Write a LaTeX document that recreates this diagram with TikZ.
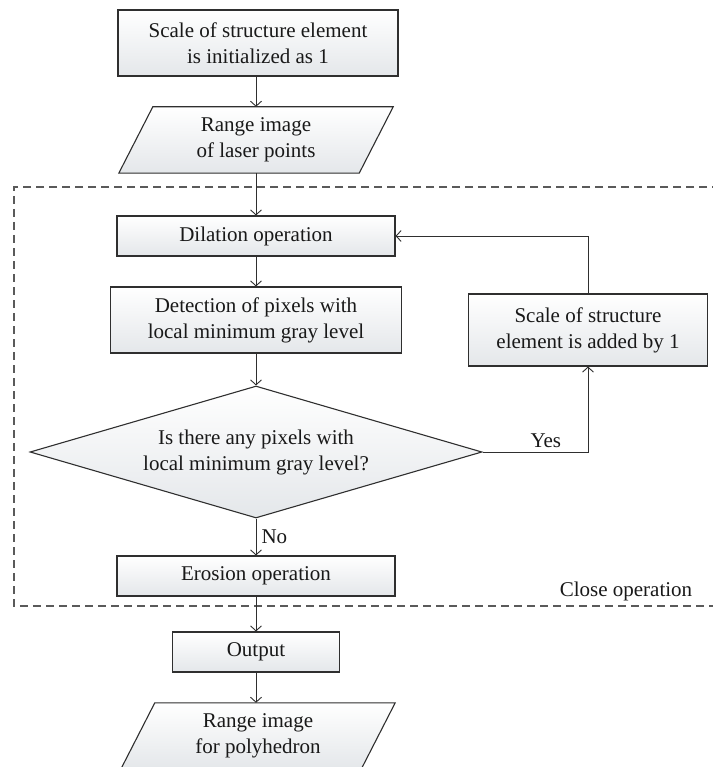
\documentclass[tikz,border=0pt]{standalone}
\usepackage{fontspec}
\setmainfont{Liberation Serif}
\usetikzlibrary{arrows.meta,calc,shapes.geometric,backgrounds}
\definecolor{linec}{HTML}{2F2F2F}
\definecolor{fillb}{HTML}{E4E7EA}
\definecolor{dashc}{HTML}{5A5A5A}
\begin{document}
\begin{tikzpicture}[x=1pt,y=-1pt,
  every node/.style={font=\fontsize{21}{26}\selectfont, text=black!90},
  box/.style={draw=linec, line width=1.1pt, top color=white, bottom color=fillb, align=center, inner sep=0pt},
  ptext/.style={align=center, inner sep=0pt, minimum height=66pt, minimum width=240pt},
  pbox/.style={draw=linec, line width=1.1pt, top color=white, bottom color=fillb},
  dec/.style={box, shape=diamond, shape aspect=3.4, minimum width=452pt, minimum height=132pt},
  flow/.style={draw=linec, line width=1pt, -{Straight Barb[length=5pt,width=11pt,line width=0.9pt]}},
  lbl/.style={inner sep=0pt},
]
\useasboundingbox (0,0) rectangle (712,767);

% dashed frame (open on the right, cut by the page edge)
\draw[dashc, line width=1.1pt, dash pattern=on 8pt off 5pt] (720,187) -- (14,187) -- (14,606) -- (720,606);

\node[box, minimum width=280pt, minimum height=66pt] (init) at (258,43) {Scale of structure element\\is initialized as 1};
\node[ptext] (p1) at (256,140) {Range image\\of laser points};
\node[box, minimum width=278pt, minimum height=40pt] (dil) at (256,236) {Dilation operation};
\node[box, minimum width=291pt, minimum height=66pt] (det) at (256,320) {Detection of pixels with\\local minimum gray level};
\node[box, minimum width=239pt, minimum height=72pt] (add) at (588,330) {Scale of structure\\element is added by 1};
\node[dec] (q) at (256,452) {Is there any pixels with\\local minimum gray level?};
\node[box, minimum width=278pt, minimum height=40pt] (ero) at (256,576) {Erosion operation};
\node[box, minimum width=167pt, minimum height=40pt] (out) at (256,652) {Output};
\node[ptext] (p2) at (258,736) {Range image\\for polyhedron};
\node[lbl, anchor=base] (close) at (626,596) {Close operation};

\begin{scope}[on background layer]
\draw[pbox] ($(p1.north west)+(17,0)$) -- ($(p1.north east)+(17,0)$) -- ($(p1.south east)+(-17,0)$) -- ($(p1.south west)+(-17,0)$) -- cycle;
\draw[pbox] ($(p2.north west)+(17,0)$) -- ($(p2.north east)+(17,0)$) -- ($(p2.south east)+(-17,0)$) -- ($(p2.south west)+(-17,0)$) -- cycle;
\end{scope}

\draw[flow] (init.south -| p1.north) -- (p1.north);
\draw[flow] (p1.south) -- (dil.north);
\draw[flow] (dil) -- (det);
\draw[flow] (det) -- (q.north);
\draw[flow] (q.south) -- node[lbl, right, xshift=5pt, pos=0.5] {No} (ero.north);
\draw[flow] (q.east) -| node[lbl, above=4pt, pos=0.3] {Yes} (add.south);
\draw[flow] (add.north) |- (dil.east);
\draw[flow] (ero) -- (out);
\draw[flow] (out.south) -- (out.south |- p2.north);
\end{tikzpicture}
\end{document}
